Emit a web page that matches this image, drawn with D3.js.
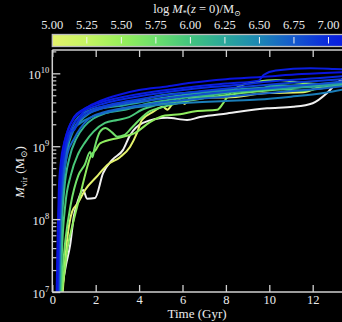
<!DOCTYPE html>
<html><head><meta charset="utf-8">
<script src="https://cdn.jsdelivr.net/npm/d3@7"></script>
<style>html,body{margin:0;padding:0;background:#000;overflow:hidden}</style>
</head><body>
<svg id="c" width="342" height="322"></svg>
<script>
// ---- data (time in Gyr, log10 Mvir) ----
const xTicks = [0, 2, 4, 6, 8, 10, 12];
const yTickExps = [7, 8, 9, 10];
const cbTicks = [5.00, 5.25, 5.50, 5.75, 6.00, 6.25, 6.50, 6.75, 7.00];
const cbStops = [5.0, 5.25, 5.5, 5.75, 6.0, 6.25, 6.5, 6.75, 7.0, 7.2];
const cbColors = ["#e4f26c","#c6f462","#98ef5a","#6cdf6c","#42c47e","#2aa79a","#1c86b4","#1458cc","#0a28de","#0a14e0"];

const logMstar = [4.8, 5.0, 5.55, 5.72, 5.95, 6.12, 6.28, 6.42, 6.55, 6.7, 6.8, 6.9, 7.0, 7.1, 7.2];

const trackW = [[0.42,7.0],[0.63,7.37],[0.82,7.64],[1.0,8.05],[1.19,8.26],[1.42,8.40],[1.6,8.28],[1.97,8.29],[2.34,8.63],[2.75,8.81],[3.26,8.95],[3.58,9.15],[4.18,9.32],[5.29,9.39],[6.21,9.36],[6.81,9.40],[8.05,9.45],[9.9,9.52],[11.1,9.54],[12.0,9.59],[12.66,9.73],[13.12,9.87],[13.5,9.94],[13.8,9.96]];
const trackY = [[0.48,7.0],[0.68,7.71],[0.91,8.1],[1.18,8.22],[1.51,8.40],[2.1,8.6],[2.52,8.74],[3.12,8.85],[3.58,8.99],[3.9,9.18],[4.13,9.36],[4.64,9.47],[5.1,9.54],[5.3,9.5],[5.56,9.59],[5.88,9.63],[6.1,9.58],[6.35,9.66],[6.94,9.67],[8.05,9.67],[9.9,9.73],[11.56,9.74],[12.3,9.81],[13.35,9.85],[13.8,9.87]];
const trackC = [[0.45,7.0],[0.7,7.6],[1.0,8.0],[1.3,8.35],[1.55,8.65],[1.75,8.85],[2.0,8.95],[2.2,9.04],[3.12,9.12],[3.8,9.18],[4.5,9.33],[5.2,9.42],[5.88,9.44],[6.6,9.48],[7.6,9.50],[7.85,9.58],[8.05,9.67],[8.3,9.76],[8.6,9.82],[9.3,9.88],[10.5,9.91],[11.4,9.87],[12.6,9.85],[13.8,9.87]];
const trackD = [[0.4,7.0],[0.6,7.7],[0.85,8.2],[1.2,8.6],[1.5,8.75],[1.74,8.92],[1.85,8.85],[1.95,8.98],[2.2,9.2],[2.45,9.25],[2.75,9.19],[3.0,9.13],[3.3,9.15],[3.65,9.25],[4.04,9.37],[4.5,9.48],[5.0,9.53],[5.9,9.6],[7.0,9.66],[8.5,9.72],[10.5,9.78],[12.3,9.84],[13.8,9.9]];
const trackE = [[0.38,7.0],[0.45,7.6],[0.6,8.2],[0.85,8.6],[1.2,8.9],[1.5,9.05],[1.9,9.2],[2.43,9.32],[3.0,9.36],[3.54,9.40],[4.13,9.5],[4.73,9.56],[5.9,9.62],[7.0,9.68],[8.0,9.73],[9.0,9.76],[10.5,9.78],[11.5,9.76],[12.5,9.8],[13.8,9.86]];
const trackF = [[0.35,7.0],[0.42,7.8],[0.55,8.4],[0.8,8.85],[1.1,9.1],[1.5,9.28],[1.9,9.38],[2.43,9.45],[3.35,9.5],[4.45,9.59],[5.5,9.64],[7.0,9.7],[8.5,9.75],[9.6,9.78],[10.2,9.84],[11.0,9.83],[12.5,9.85],[13.8,9.9]];
const trackG = [[0.33,7.0],[0.4,7.9],[0.52,8.5],[0.7,8.95],[0.95,9.2],[1.3,9.35],[1.7,9.45],[2.29,9.52],[3.08,9.55],[4.0,9.6],[5.05,9.66],[6.5,9.72],[8.0,9.76],[9.5,9.78],[11.0,9.8],[12.3,9.82],[13.8,9.88]];
const trackH = [[0.31,7.0],[0.38,8.0],[0.5,8.6],[0.68,9.0],[0.9,9.25],[1.28,9.42],[1.8,9.5],[2.29,9.54],[3.08,9.58],[4.0,9.63],[5.05,9.7],[6.5,9.74],[8.0,9.77],[9.5,9.8],[11.0,9.83],[13.8,9.88]];
const trackI = [[0.3,7.0],[0.37,8.0],[0.48,8.6],[0.65,9.0],[0.9,9.2],[1.3,9.32],[1.8,9.4],[2.5,9.46],[3.5,9.52],[5.0,9.57],[6.5,9.6],[8.0,9.62],[9.5,9.64],[11.0,9.68],[12.5,9.73],[13.8,9.8]];
const trackO = [[0.28,7.0],[0.36,8.0],[0.48,8.5],[0.7,8.9],[1.0,9.1],[1.3,9.25],[1.7,9.38],[2.3,9.46],[3.2,9.52],[4.5,9.58],[6.0,9.63],[8.0,9.68],[10.0,9.73],[12.0,9.78],[13.8,9.84]];
const trackJ = [[0.27,7.0],[0.35,8.0],[0.45,8.55],[0.62,8.95],[0.85,9.15],[1.1,9.3],[1.5,9.42],[2.1,9.5],[3.0,9.57],[4.5,9.63],[6.5,9.7],[8.5,9.76],[10.5,9.81],[12.5,9.86],[13.8,9.9]];
const trackK = [[0.25,7.0],[0.32,8.0],[0.42,8.6],[0.6,9.0],[0.8,9.2],[1.0,9.22],[1.3,9.4],[1.7,9.48],[2.5,9.56],[3.5,9.62],[5.0,9.69],[7.0,9.76],[9.0,9.82],[11.0,9.87],[13.8,9.93]];
const trackL = [[0.24,7.0],[0.3,7.9],[0.38,8.45],[0.55,8.9],[0.75,9.15],[0.95,9.3],[1.2,9.38],[1.45,9.48],[2.0,9.55],[3.0,9.63],[4.5,9.71],[6.5,9.79],[8.5,9.84],[10.5,9.9],[12.5,9.94],[13.8,9.97]];
const trackM = [[0.22,7.0],[0.28,7.9],[0.35,8.5],[0.5,8.95],[0.7,9.2],[1.0,9.4],[1.4,9.5],[2.0,9.58],[3.0,9.66],[4.5,9.74],[6.0,9.8],[8.0,9.86],[9.5,9.9],[9.75,9.98],[10.3,10.04],[11.9,10.07],[13.0,10.06],[13.8,10.05]];
const trackN = [[0.2,7.0],[0.25,7.8],[0.3,8.4],[0.4,8.8],[0.55,9.05],[0.75,9.25],[1.0,9.38],[1.3,9.47],[1.7,9.55],[2.2,9.62],[3.0,9.7],[4.0,9.77],[5.3,9.82],[6.4,9.87],[8.0,9.92],[9.6,9.95],[11.5,9.99],[13.8,10.02]];

const tracks = [trackW, trackY, trackC, trackD, trackE, trackF, trackG, trackH, trackI, trackO, trackJ, trackK, trackL, trackM, trackN];

// ---- drawing ----
const svg = d3.select("#c");
const FONT = "'Liberation Serif','DejaVu Serif',serif";
const axisCol = "#d0d0d0";
const txtCol = "#ececec";
const L = 52.3, R = 356.1, T = 50, B = 292;

const x = d3.scaleLinear().domain([0, 14]).range([L, R]);
const y = d3.scaleLog().domain([1e7, Math.pow(10, 10.32)]).range([B, T]);
const cbX = d3.scaleLinear().domain([5.0, 7.2]).range([L, R]);
const color = d3.scaleLinear().domain(cbStops).range(cbColors).clamp(true);
const colorOf = v => v < 5.0 ? "#f0f0f0" : color(v);

svg.append("rect").attr("width", 342).attr("height", 322).attr("fill", "#000");

svg.append("clipPath").attr("id", "pc").append("rect")
  .attr("x", L).attr("y", T).attr("width", R - L).attr("height", B - T);

const line = d3.line().x(d => x(d[0])).y(d => y(Math.pow(10, d[1]))).curve(d3.curveMonotoneX);
const g = svg.append("g").attr("clip-path", "url(#pc)");
tracks.forEach((t, i) => {
  g.append("path").attr("d", line(t)).attr("fill", "none")
    .attr("stroke", colorOf(logMstar[i])).attr("stroke-width", 2)
    .attr("stroke-linejoin", "round").attr("stroke-linecap", "round");
});

// frame
const frame = svg.append("g").attr("stroke", axisCol).attr("stroke-width", 1.5).attr("fill", "none");
frame.append("line").attr("x1", L).attr("x2", R).attr("y1", T).attr("y2", T);
frame.append("line").attr("x1", L).attr("x2", R).attr("y1", B).attr("y2", B);
frame.append("line").attr("x1", L).attr("x2", L).attr("y1", T).attr("y2", B);

// x axes (ticks inward)
const xb = svg.append("g").attr("transform", `translate(0,${B})`)
  .call(d3.axisBottom(x).tickValues(xTicks).tickSizeInner(-7).tickSizeOuter(0).tickPadding(3).tickFormat(d3.format("d")));
const xt = svg.append("g").attr("transform", `translate(0,${T})`)
  .call(d3.axisTop(x).tickValues(xTicks).tickSizeInner(-7).tickSizeOuter(0).tickFormat(""));
[xb, xt].forEach(a => {
  a.select(".domain").remove();
  a.selectAll("line").attr("stroke", axisCol).attr("stroke-width", 1.3);
  a.selectAll("text").attr("fill", txtCol).style("font-family", FONT).style("font-size", "12.5px");
});

// y axis
const minorVals = [];
for (let e = 7; e <= 10; e++) for (let k = 2; k <= 9; k++) { const v = k * Math.pow(10, e); if (v < y.domain()[1]) minorVals.push(v); }
const yMinor = svg.append("g").attr("transform", `translate(${L},0)`)
  .call(d3.axisLeft(y).tickValues(minorVals).tickSizeInner(-4).tickSizeOuter(0).tickFormat(""));
yMinor.select(".domain").remove();
yMinor.selectAll("line").attr("stroke", axisCol).attr("stroke-width", 1.2);
const yMajor = svg.append("g").attr("transform", `translate(${L},0)`)
  .call(d3.axisLeft(y).tickValues(yTickExps.map(e => Math.pow(10, e))).tickSizeInner(-8).tickSizeOuter(0).tickFormat(""));
yMajor.select(".domain").remove();
yMajor.selectAll("line").attr("stroke", axisCol).attr("stroke-width", 1.3);
yMajor.selectAll(".tick").each(function(d, i) {
  const t = d3.select(this).append("text").attr("x", -3).attr("y", 5)
    .attr("text-anchor", "end").attr("fill", txtCol)
    .style("font-family", FONT).style("font-size", "12.5px");
  t.append("tspan").text("10");
  t.append("tspan").attr("dy", -6).style("font-size", "8.5px").text(yTickExps[i]);
});

// axis labels
svg.append("text").attr("x", 197).attr("y", 318).attr("text-anchor", "middle")
  .attr("fill", txtCol).style("font-family", FONT).style("font-size", "13px").text("Time (Gyr)");
const yl = svg.append("text").attr("transform", "translate(24,172) rotate(-90)").attr("text-anchor", "middle")
  .attr("fill", txtCol).style("font-family", FONT).style("font-size", "13px");
yl.append("tspan").style("font-style", "italic").text("M");
yl.append("tspan").attr("dy", 3).style("font-size", "9px").text("vir");
yl.append("tspan").attr("dy", -3).text(" (M");
yl.append("tspan").attr("dy", 3).style("font-size", "9px").text("⊙");
yl.append("tspan").attr("dy", -3).text(")");

// colorbar
const defs = svg.append("defs");
const grad = defs.append("linearGradient").attr("id", "cbg").attr("x1", "0%").attr("x2", "100%");
cbStops.forEach((s, i) => grad.append("stop").attr("offset", ((s - 5.0) / 2.2 * 100) + "%").attr("stop-color", cbColors[i]));
svg.append("rect").attr("x", cbX(5.0)).attr("y", 34.5).attr("width", cbX(7.2) - cbX(5.0)).attr("height", 12)
  .attr("fill", "url(#cbg)").attr("stroke", "#bdbdbd").attr("stroke-width", 1.3);
svg.append("g").selectAll("line").data(cbTicks.slice(1)).join("line")
  .attr("x1", d => cbX(d)).attr("x2", d => cbX(d)).attr("y1", 37).attr("y2", 43.5)
  .attr("stroke", "#f4f4f4").attr("stroke-width", 1);
svg.append("g").selectAll("text").data(cbTicks).join("text")
  .attr("x", d => cbX(d)).attr("y", 29).attr("text-anchor", "middle").attr("fill", txtCol)
  .style("font-family", FONT).style("font-size", "12.5px").text(d => d.toFixed(2));
const ct = svg.append("text").attr("x", 197).attr("y", 13).attr("text-anchor", "middle")
  .attr("fill", txtCol).style("font-family", FONT).style("font-size", "12.5px");
ct.append("tspan").text("log ");
ct.append("tspan").style("font-style", "italic").text("M");
ct.append("tspan").attr("dy", 2.5).style("font-size", "8px").text("*");
ct.append("tspan").attr("dy", -2.5).text("(");
ct.append("tspan").style("font-style", "italic").text("z");
ct.append("tspan").text(" = 0)/M");
ct.append("tspan").attr("dy", 2.5).style("font-size", "8px").text("⊙");
</script>
</body></html>
